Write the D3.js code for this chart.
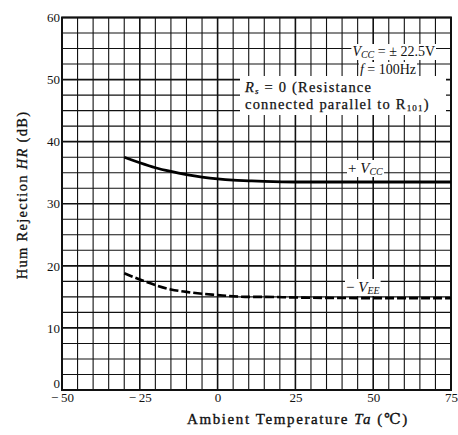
<!DOCTYPE html>
<html><head><meta charset="utf-8">
<script src="https://cdn.jsdelivr.net/npm/d3@7"></script>
<style>
html,body{margin:0;padding:0;background:#fff;}
text{font-family:"Liberation Serif","DejaVu Serif",serif;fill:#111;}
</style></head>
<body><svg id="c" width="458" height="435"></svg>
<script>
// ---- data ----
const temps   = [-30, -25, -20, -15, -10, -5, 0, 5, 10, 15, 25, 50, 75];
const vccHR   = [37.5, 36.6, 35.8, 35.2, 34.7, 34.3, 34.0, 33.8, 33.7, 33.6, 33.5, 33.5, 33.5];
const veeHR   = [18.8, 17.8, 16.9, 16.2, 15.8, 15.5, 15.3, 15.1, 15.0, 15.0, 14.9, 14.8, 14.8];
const xTicks  = [-50, -25, 0, 25, 50, 75];
const yTicks  = [0, 10, 20, 30, 40, 50, 60];
const xGridStep = 5, yGridStep = 2.5;

const svg = d3.select("#c");
const L = 62, R = 451, T = 17.5, B = 390;
const x = d3.scaleLinear().domain([-50, 75]).range([L, R]);
const y = d3.scaleLinear().domain([0, 60]).range([B, T]);

// grid
const xg = d3.range(-50, 75.001, xGridStep);
const yg = d3.range(0, 60.001, yGridStep);
const grid = svg.append("g");
grid.selectAll(".vx").data(xg).join("line")
  .attr("x1", d => x(d)).attr("x2", d => x(d)).attr("y1", T).attr("y2", B)
  .attr("stroke", "#111").attr("stroke-width", d => d % 25 === 0 ? 1.6 : 1.1);
grid.selectAll(".hy").data(yg).join("line")
  .attr("y1", d => y(d)).attr("y2", d => y(d)).attr("x1", L).attr("x2", R)
  .attr("stroke", "#111").attr("stroke-width", d => d % 10 === 0 ? 1.6 : 1.1);
svg.append("rect").attr("x", L).attr("y", T).attr("width", R - L).attr("height", B - T)
  .attr("fill", "none").attr("stroke", "#111").attr("stroke-width", 2);

// axes labels
const fmt = d => d < 0 ? "\u2212\u2009" + Math.abs(d) : String(d);
const ax = svg.append("g").attr("transform", `translate(0,${B})`)
  .call(d3.axisBottom(x).tickValues(xTicks).tickSize(0).tickPadding(3).tickFormat(fmt));
ax.select(".domain").remove();
ax.selectAll("text").attr("font-size", 13).attr("font-family", "Liberation Serif").attr("fill", "#111");
const ay = svg.append("g").attr("transform", `translate(${L},0)`)
  .call(d3.axisLeft(y).tickValues(yTicks).tickSize(0).tickPadding(2).tickFormat(fmt));
ay.select(".domain").remove();
ay.selectAll("text").attr("font-size", 13).attr("font-family", "Liberation Serif").attr("fill", "#111");
ay.selectAll(".tick").filter(d => d === 0).select("text").attr("dy", "-0.2em");

// curves
const line = d3.line().x((d, i) => x(temps[i])).y(d => y(d)).curve(d3.curveMonotoneX);
svg.append("path").attr("d", line(vccHR)).attr("fill", "none")
  .attr("stroke", "#000").attr("stroke-width", 2.8);
svg.append("path").attr("d", line(veeHR)).attr("fill", "none")
  .attr("stroke", "#000").attr("stroke-width", 2.6).attr("stroke-dasharray", "9,3");

// annotation helper: text with white backing
function label(g, pad) {
  const bb = g.node().getBBox();
  g.insert("rect", ":first-child").attr("x", bb.x - pad).attr("y", bb.y)
    .attr("width", bb.width + 2 * pad).attr("height", bb.height).attr("fill", "#fff");
}
const fs = 14;
// VCC = ±22.5V
let g1 = svg.append("g");
let t1 = g1.append("text").attr("x", 435).attr("y", 56).attr("text-anchor", "end").attr("font-size", fs);
t1.append("tspan").attr("font-style", "italic").text("V");
t1.append("tspan").attr("font-style", "italic").attr("font-size", 10).attr("dy", 2).text("CC");
t1.append("tspan").attr("dy", -2).text(" = \u00b1 22.5V");
label(g1, 1);
let g2 = svg.append("g");
let t2 = g2.append("text").attr("x", 416).attr("y", 74).attr("text-anchor", "end").attr("font-size", fs);
t2.append("tspan").attr("font-style", "italic").text("f");
t2.append("tspan").text(" = 100Hz");
label(g2, 1);

let g3 = svg.append("g");
g3.append("rect").attr("x", 240).attr("y", 76).attr("width", 206).attr("height", 39).attr("fill", "#fff");
let t3 = g3.append("text").attr("x", 245).attr("y", 92).attr("font-size", 14.5).attr("letter-spacing", 1.2)
  .attr("stroke", "#111").attr("stroke-width", 0.25);
t3.append("tspan").attr("font-style", "italic").text("R");
t3.append("tspan").attr("font-style", "italic").attr("font-size", 9).attr("dy", 2).text("s");
t3.append("tspan").attr("dy", -2).text(" = 0 (Resistance");
let t4 = g3.append("text").attr("x", 245).attr("y", 109).attr("font-size", 14.5).attr("letter-spacing", 1.2)
  .attr("stroke", "#111").attr("stroke-width", 0.25);
t4.append("tspan").text("connected parallel to R");
t4.append("tspan").attr("font-size", 9).attr("dy", 2).text("101");
t4.append("tspan").attr("dy", -2).text(")");

// curve labels
let g5 = svg.append("g");
let t5 = g5.append("text").attr("x", 348).attr("y", 173).attr("font-size", 15);
t5.append("tspan").text("+ ");
t5.append("tspan").attr("font-style", "italic").text("V");
t5.append("tspan").attr("font-style", "italic").attr("font-size", 10).attr("dy", 2).text("CC");
label(g5, 1);
let g6 = svg.append("g");
let t6 = g6.append("text").attr("x", 346).attr("y", 292).attr("font-size", 15);
t6.append("tspan").text("\u2212 ");
t6.append("tspan").attr("font-style", "italic").text("V");
t6.append("tspan").attr("font-style", "italic").attr("font-size", 10).attr("dy", 2).text("EE");
label(g6, 1);

// axis titles
let xt = svg.append("text").attr("x", 298).attr("y", 424).attr("text-anchor", "middle")
  .attr("font-size", 15).attr("letter-spacing", 1.6).attr("stroke", "#111").attr("stroke-width", 0.35);
xt.append("tspan").text("Ambient Temperature ");
xt.append("tspan").attr("font-style", "italic").text("Ta");
xt.append("tspan").text(" (\u2103)");
let yt = svg.append("text").attr("transform", "translate(27,195) rotate(-90)").attr("text-anchor", "middle")
  .attr("font-size", 14.5).attr("letter-spacing", 1.3).attr("stroke", "#111").attr("stroke-width", 0.3);
yt.append("tspan").text("Hum Rejection ");
yt.append("tspan").attr("font-style", "italic").text("HR");
yt.append("tspan").text(" (dB)");
</script></body></html>
